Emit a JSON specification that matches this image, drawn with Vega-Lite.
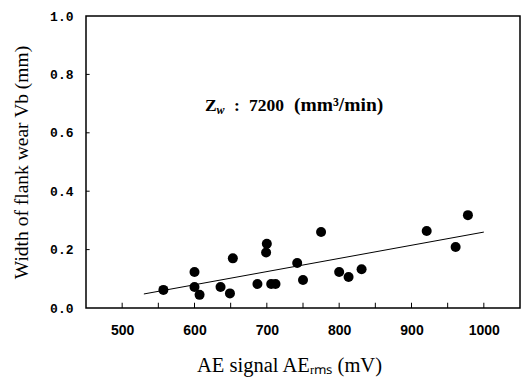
{
  "$schema": "https://vega.github.io/schema/vega-lite/v6.json",
  "autosize": {"type": "none"},
  "width": 434,
  "height": 292,
  "padding": {"left": 86, "top": 16, "right": 8, "bottom": 72},
  "background": "white",
  "config": {
    "view": {"stroke": "black", "strokeWidth": 1.5},
    "axis": {"grid": false, "domainColor": "black", "tickColor": "black", "labelColor": "black", "titleColor": "black"},
    "text": {"font": "Liberation Serif", "fontWeight": "bold", "fontSize": 17.5, "color": "black", "align": "left", "baseline": "alphabetic"}
  },
  "layer": [
    {
      "data": {"values": [
        {"ae": 557, "vb": 0.062},
        {"ae": 600, "vb": 0.123},
        {"ae": 600, "vb": 0.072},
        {"ae": 607, "vb": 0.045},
        {"ae": 636, "vb": 0.072},
        {"ae": 649, "vb": 0.050},
        {"ae": 653, "vb": 0.170},
        {"ae": 687, "vb": 0.082},
        {"ae": 700, "vb": 0.220},
        {"ae": 699, "vb": 0.190},
        {"ae": 706, "vb": 0.082},
        {"ae": 712, "vb": 0.082},
        {"ae": 742, "vb": 0.154},
        {"ae": 750, "vb": 0.096},
        {"ae": 775, "vb": 0.260},
        {"ae": 800, "vb": 0.123},
        {"ae": 813, "vb": 0.106},
        {"ae": 831, "vb": 0.133},
        {"ae": 921, "vb": 0.264},
        {"ae": 961, "vb": 0.209},
        {"ae": 978, "vb": 0.318}
      ]},
      "mark": {"type": "point", "filled": true, "shape": "circle", "size": 100, "color": "black", "opacity": 1},
      "encoding": {
        "x": {
          "field": "ae", "type": "quantitative",
          "scale": {"domain": [450, 1050], "nice": false, "zero": false},
          "axis": {
            "title": "AE signal AEᵣₘₛ (mV)",
            "titleFont": "Liberation Serif", "titleFontSize": 20.5, "titleFontWeight": "normal", "titlePadding": 18,
            "titleX": 203,
            "values": [500, 600, 700, 800, 900, 1000],
            "format": "d",
            "labelFont": "Liberation Sans", "labelFontWeight": "bold", "labelFontSize": 14,
            "labelPadding": 15, "ticks": false, "domain": false, "labelFlush": false
          }
        },
        "y": {
          "field": "vb", "type": "quantitative",
          "scale": {"domain": [0, 1], "nice": false},
          "axis": {
            "title": "Width of flank wear Vb (mm)",
            "titleFont": "Liberation Serif", "titleFontSize": 19.5, "titleFontWeight": "normal", "titlePadding": 18,
            "values": [0, 0.2, 0.4, 0.6, 0.8, 1.0],
            "format": ".1f",
            "labelFont": "Liberation Mono", "labelFontWeight": "bold", "labelFontSize": 13,
            "labelPadding": 13, "ticks": false, "domain": false, "labelFlush": false
          }
        }
      }
    },
    {
      "data": {"values": [
        {"t": 500}, {"t": 550}, {"t": 600}, {"t": 650}, {"t": 700}, {"t": 750},
        {"t": 800}, {"t": 850}, {"t": 900}, {"t": 950}, {"t": 1000}
      ]},
      "mark": {"type": "rule", "color": "black", "strokeWidth": 1},
      "encoding": {
        "x": {"field": "t", "type": "quantitative"},
        "y": {"datum": 0},
        "y2": {"datum": 0.018}
      }
    },
    {
      "data": {"values": [
        {"t": 0.2}, {"t": 0.4}, {"t": 0.6}, {"t": 0.8}
      ]},
      "mark": {"type": "rule", "color": "black", "strokeWidth": 1},
      "encoding": {
        "y": {"field": "t", "type": "quantitative"},
        "x": {"datum": 450},
        "x2": {"datum": 455}
      }
    },
    {
      "data": {"values": [
        {"ae": 530, "vb": 0.048},
        {"ae": 1000, "vb": 0.26}
      ]},
      "mark": {"type": "line", "color": "black", "strokeWidth": 1},
      "encoding": {
        "x": {"field": "ae", "type": "quantitative"},
        "y": {"field": "vb", "type": "quantitative"}
      }
    },
    {
      "data": {"values": [{"ae": 614.5, "vb": 0.676, "t": "Z"}]},
      "mark": {"type": "text"},
      "encoding": {
        "x": {"field": "ae", "type": "quantitative"},
        "y": {"field": "vb", "type": "quantitative"},
        "text": {"field": "t"}
      }
    },
    {
      "data": {"values": [{"ae": 614.5, "vb": 0.676, "t": "w"}]},
      "mark": {"type": "text", "fontSize": 12, "fontStyle": "italic", "dx": 11.5, "dy": 3},
      "encoding": {
        "x": {"field": "ae", "type": "quantitative"},
        "y": {"field": "vb", "type": "quantitative"},
        "text": {"field": "t"}
      }
    },
    {
      "data": {"values": [{"ae": 614.5, "vb": 0.676, "t": ":"}]},
      "mark": {"type": "text", "dx": 29},
      "encoding": {
        "x": {"field": "ae", "type": "quantitative"},
        "y": {"field": "vb", "type": "quantitative"},
        "text": {"field": "t"}
      }
    },
    {
      "data": {"values": [{"ae": 614.5, "vb": 0.676, "t": "7200"}]},
      "mark": {"type": "text", "dx": 44},
      "encoding": {
        "x": {"field": "ae", "type": "quantitative"},
        "y": {"field": "vb", "type": "quantitative"},
        "text": {"field": "t"}
      }
    },
    {
      "data": {"values": [{"ae": 614.5, "vb": 0.676, "t": "(mm³/min)"}]},
      "mark": {"type": "text", "fontSize": 19.5, "dx": 89},
      "encoding": {
        "x": {"field": "ae", "type": "quantitative"},
        "y": {"field": "vb", "type": "quantitative"},
        "text": {"field": "t"}
      }
    }
  ]
}
